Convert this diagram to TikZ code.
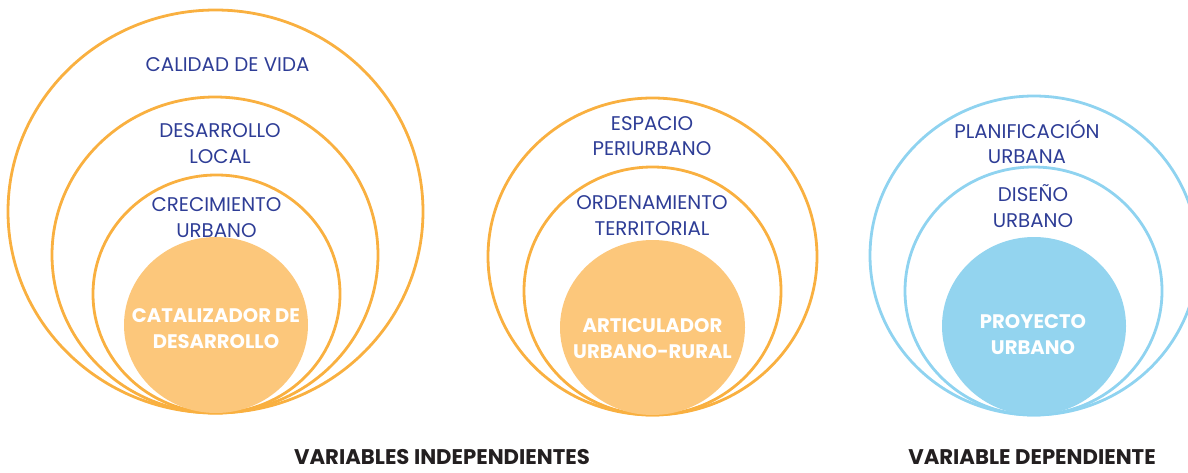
\documentclass[tikz,border=0pt]{standalone}
\usepackage{fontspec}
\setmainfont{Poppins}
\definecolor{orst}{HTML}{F9B040}
\definecolor{orfill}{HTML}{FCC77B}
\definecolor{blst}{HTML}{8FD3F0}
\definecolor{blfill}{HTML}{93D4EF}
\definecolor{txtblue}{HTML}{2E3D96}
\definecolor{txtdark}{HTML}{231F20}
\tikzset{
  ring/.style={line width=2.8pt},
  lbl/.style={text=txtblue, font=\fontsize{19.8}{25.5}\selectfont, align=center, inner sep=0pt},
  corelbl/.style={text=white, font=\bfseries\fontsize{19.6}{25.5}\selectfont, align=center, inner sep=0pt},
  foot/.style={text=txtdark, font=\bfseries\fontsize{21.2}{24}\selectfont, inner sep=0pt, anchor=base}
}
\begin{document}
\begin{tikzpicture}[x=1pt,y=-1pt]
\useasboundingbox (0,0) rectangle (1188,473);
\begin{scope}
\clip (0,0) rectangle (1188,473);
% group 1
\draw[ring,orst] (215.5,211.5) ellipse [x radius=207.5pt, y radius=201.5pt];
\draw[ring,orst] (215,255) ellipse [x radius=163pt, y radius=158pt];
\draw[ring,orst] (216.5,294) ellipse [x radius=123.5pt, y radius=119pt];
\fill[orfill] (216,325) ellipse [x radius=92pt, y radius=88pt];
% group 2
\draw[ring,orst] (652.5,256.5) ellipse [x radius=164.5pt, y radius=158.5pt];
\draw[ring,orst] (652.5,291) ellipse [x radius=128.5pt, y radius=124pt];
\fill[orfill] (652.5,327.5) ellipse [x radius=92.5pt, y radius=87.5pt];
% group 3
\draw[ring,blst] (1034,255.5) ellipse [x radius=164pt, y radius=159.5pt];
\draw[ring,blst] (1033.5,291) ellipse [x radius=128.5pt, y radius=124pt];
\fill[blfill] (1034,326) ellipse [x radius=92pt, y radius=89pt];
\end{scope}
% labels group 1
\node[lbl] (cv) at (227.5,65) {CALIDAD DE VIDA};
\node[lbl] (dl) at (220,143.5) {DESARROLLO\\LOCAL};
\node[lbl] (cu) at (216.5,217.5) {CRECIMIENTO\\URBANO};
\node[corelbl] (cd) at (216,328.5) {CATALIZADOR DE\\DESARROLLO};
% labels group 2
\node[lbl] (ep) at (652,136) {ESPACIO\\PERIURBANO};
\node[lbl] (ot) at (652,215.5) {ORDENAMIENTO\\TERRITORIAL};
\node[corelbl] (ar) at (652.5,338.5) {ARTICULADOR\\URBANO-RURAL};
% labels group 3
\node[lbl] (pu) at (1027,142) {PLANIFICACIÓN\\URBANA};
\node[lbl] (du) at (1033,206) {DISEÑO\\URBANO};
\node[corelbl] (pr) at (1033,334.5) {PROYECTO\\URBANO};
% footers
\node[foot] (vi) at (442,464) {VARIABLES INDEPENDIENTES};
\node[foot] (vd) at (1032,464) {VARIABLE DEPENDIENTE};
\end{tikzpicture}
\end{document}
